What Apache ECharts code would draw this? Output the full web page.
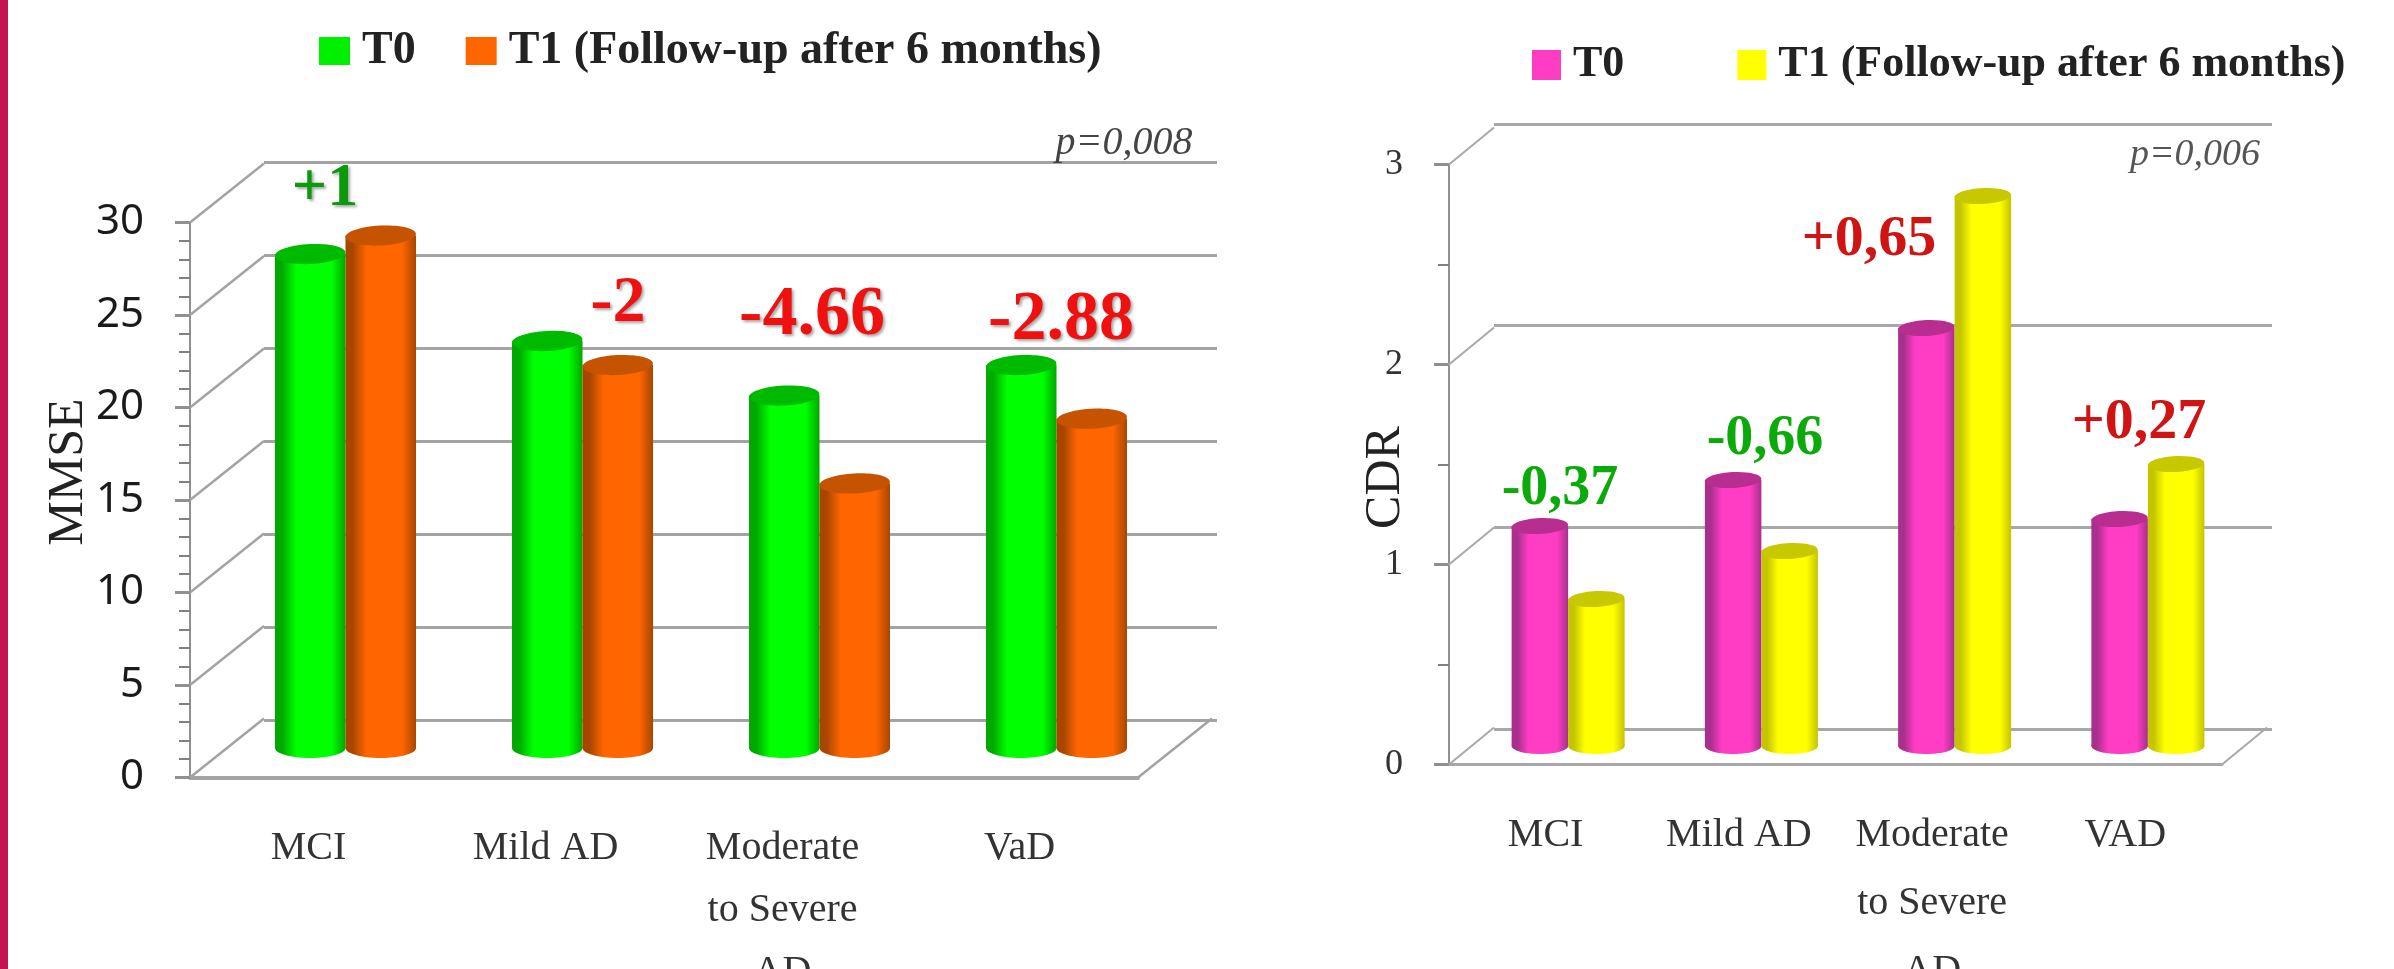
<!DOCTYPE html>
<html>
<head>
<meta charset="utf-8">
<style>
  html, body { margin: 0; padding: 0; background: #ffffff; overflow: hidden; }
  #stripe { position: absolute; left: 0; top: 0; width: 8px; height: 969px; background: #c2144f; }
  #mmse { position: absolute; left: 0; top: 0; width: 1300px; height: 969px; }
  #cdr { position: absolute; left: 1300px; top: 0; width: 1094px; height: 969px; }
</style>
<script src="https://cdn.jsdelivr.net/npm/echarts@6/dist/echarts.min.js"></script>
</head>
<body>
<div id="stripe"></div>
<div id="mmse"></div>
<div id="cdr"></div>
<script>
"use strict";

var legendT0 = "T0";
var legendT1 = "T1 (Follow-up after 6 months)";

var mmseCategories = ["MCI", "Mild AD", "Moderate\nto Severe\nAD", "VaD"];
var mmseT0 = [26.7, 22.0, 19.05, 20.7];
var mmseT1 = [27.7, 20.7, 14.3, 17.8];
var mmseTicks = [0, 5, 10, 15, 20, 25, 30];
var mmseDeltas = ["+1", "-2", "-4.66", "-2.88"];

var cdrCategories = ["MCI", "Mild AD", "Moderate\nto Severe\nAD", "VAD"];
var cdrT0 = [1.10, 1.33, 2.09, 1.135];
var cdrT1 = [0.735, 0.975, 2.75, 1.41];
var cdrTicks = [0, 1, 2, 3];
var cdrDeltas = ["-0,37", "-0,66", "+0,65", "+0,27"];

var SERIF = "'Liberation Serif', serif";
var GREEN_TEXT = "#0a9a0a";
var RED_TEXT = "#f01010";

function barSeries(name, values, side, look, geo) {
  return {
    type: "custom",
    name: name,
    z: 3,
    itemStyle: {color: look.legend},
    data: values.map(function(v, i) { return [i, v]; }),
    encode: {x: 0, y: 1},
    renderItem: function(params, api) {
      var top = api.coord([api.value(0), api.value(1)]);
      var base = api.coord([api.value(0), 0]);
      var w = geo.barWidth;
      // bars stand halfway into the floor
      var cx = top[0] + geo.depthX / 2 + side * w / 2;
      var topY = top[1] - geo.depthY / 2;
      var baseY = base[1] - geo.depthY / 2;
      var fill = new echarts.graphic.LinearGradient(0, 0, 1, 0, [
        {offset: 0, color: look.edge},
        {offset: 0.1, color: look.edge},
        {offset: 0.3, color: look.body},
        {offset: 0.8, color: look.body},
        {offset: 1, color: look.edge}
      ]);
      return {
        type: "group",
        children: [
          {
            type: "ellipse",
            shape: {cx: cx, cy: baseY, rx: w / 2, ry: geo.capHeight},
            style: {fill: fill}
          },
          {
            type: "rect",
            shape: {x: cx - w / 2, y: topY, width: w, height: baseY - topY},
            style: {fill: fill}
          },
          {
            type: "ellipse",
            shape: {cx: cx, cy: topY, rx: w / 2, ry: geo.capHeight},
            originX: cx,
            originY: topY,
            rotation: 0.05,
            style: {fill: look.cap}
          }
        ]
      };
    }
  };
}

// slanted wall and floor edges running back from the front axes
function depthSeries(ticks, lastIndex, geo) {
  var rows = ticks.map(function(t) { return [0, t, 0]; });
  rows.push([lastIndex, ticks[0], 1]);
  return {
    type: "custom",
    silent: true,
    z: 1,
    data: rows,
    encode: {x: 0, y: 1},
    renderItem: function(params, api) {
      var p = api.coord([api.value(0), api.value(1)]);
      var band = api.size([1, 0])[0];
      var x0 = p[0] + (api.value(2) ? band / 2 : -band / 2);
      return {
        type: "line",
        shape: {x1: x0, y1: p[1], x2: x0 + geo.depthX, y2: p[1] - geo.depthY},
        style: {stroke: geo.lineColor, lineWidth: geo.depthLine}
      };
    }
  };
}

function note(text, x, y, size, color, extra) {
  var style = {
    text: text,
    x: x,
    y: y,
    align: "center",
    verticalAlign: "middle",
    fill: color,
    font: "bold " + size + "px " + SERIF
  };
  for (var k in extra) {
    style[k] = extra[k];
  }
  return {type: "text", z: 20, silent: true, style: style};
}

function drawChart(domId, cfg) {
  var chart = echarts.init(document.getElementById(domId));
  var geo = cfg.geo;

  chart.setOption({
    animation: false,
    backgroundColor: "transparent",
    legend: {
      data: [legendT0, legendT1],
      left: cfg.legendLeft,
      top: cfg.legendTop,
      padding: 0,
      icon: "rect",
      itemWidth: cfg.legendMark[0],
      itemHeight: cfg.legendMark[1],
      itemGap: cfg.legendGap,
      selectedMode: false,
      textStyle: {
        fontFamily: SERIF,
        fontWeight: "bold",
        fontSize: cfg.legendSize,
        color: "#222222",
        padding: [0, 0, 0, 7]
      }
    },
    grid: [
      {left: cfg.front.left, top: cfg.front.top, width: cfg.front.width, height: cfg.front.height, outerBoundsMode: "none"},
      {left: cfg.wall.left, top: cfg.wall.top, width: cfg.wall.width, height: cfg.wall.height, outerBoundsMode: "none"}
    ],
    xAxis: [
      {
        type: "category",
        gridIndex: 0,
        data: cfg.categories,
        offset: geo.axisDrop,
        axisLine: {lineStyle: {color: geo.lineColor, width: geo.axisWidth}},
        axisTick: {length: 14, lineStyle: {color: "#909090", width: 2}},
        axisLabel: {
          interval: 0,
          margin: cfg.catMargin,
          fontFamily: SERIF,
          fontSize: cfg.catSize,
          lineHeight: cfg.catLine,
          color: "#333333",
          verticalAlign: "top"
        }
      },
      {type: "category", gridIndex: 1, data: cfg.categories, show: false}
    ],
    yAxis: [
      {
        type: "value",
        gridIndex: 0,
        min: cfg.ticks[0],
        max: cfg.ticks[cfg.ticks.length - 1],
        interval: cfg.ticks[1] - cfg.ticks[0],
        name: cfg.yName,
        nameLocation: "middle",
        nameGap: cfg.nameGap,
        nameRotate: 90,
        nameMoveOverlap: false,
        nameTextStyle: {
          fontFamily: SERIF,
          fontSize: cfg.nameSize,
          color: "#222222",
          padding: cfg.namePadding
        },
        splitLine: {show: false},
        axisLine: {show: true, lineStyle: {color: "#909090", width: 2}},
        axisTick: {show: true, length: 15, lineStyle: {color: "#909090", width: 3}},
        minorTick: {show: true, splitNumber: cfg.minorSplit, length: 11, lineStyle: {color: "#808080", width: 2}},
        axisLabel: cfg.tickLabel
      },
      {
        type: "value",
        gridIndex: 1,
        min: cfg.ticks[0],
        max: cfg.ticks[cfg.ticks.length - 1],
        interval: cfg.ticks[1] - cfg.ticks[0],
        axisLine: {show: false},
        axisTick: {show: false},
        axisLabel: {show: false},
        splitLine: {show: true, lineStyle: {color: geo.lineColor, width: geo.wallLine}}
      }
    ],
    series: [
      depthSeries(cfg.ticks, cfg.categories.length - 1, geo),
      barSeries(legendT0, cfg.t0, -1, cfg.looks[0], geo),
      barSeries(legendT1, cfg.t1, 1, cfg.looks[1], geo)
    ],
    graphic: cfg.notes
  });
  return chart;
}

var mmseNoteShadow = {textShadowColor: "rgba(90,90,90,0.55)", textShadowBlur: 3, textShadowOffsetX: 2, textShadowOffsetY: 2};

drawChart("mmse", {
  categories: mmseCategories,
  t0: mmseT0,
  t1: mmseT1,
  ticks: mmseTicks,
  yName: "MMSE",
  nameGap: 96,
  nameSize: 50,
  namePadding: [0, 0, 0, 56],
  minorSplit: 5,
  tickLabel: {margin: 46, fontFamily: "'Noto Sans', sans-serif", fontSize: 42, color: "#1a1a1a"},
  catMargin: 37,
  catSize: 40,
  catLine: 62,
  legendLeft: 319,
  legendTop: 28,
  legendMark: [31, 28],
  legendGap: 50,
  legendSize: 46,
  front: {left: 190, top: 222.5, width: 948, height: 555},
  wall: {left: 264, top: 162, width: 953, height: 558},
  geo: {barWidth: 70.5, depthX: 74, depthY: 59, capHeight: 10, axisDrop: 3, axisWidth: 4, wallLine: 3, depthLine: 2.5, lineColor: "#a3a3a3"},
  looks: [
    {body: "#00ff00", edge: "#00a800", cap: "#00ba00", legend: "#00f000"},
    {body: "#ff6600", edge: "#a84600", cap: "#c55300", legend: "#ff6600"}
  ],
  notes: [
    note(mmseDeltas[0], 325, 189, 62, GREEN_TEXT, mmseNoteShadow),
    note(mmseDeltas[1], 618, 304, 66, RED_TEXT, mmseNoteShadow),
    note(mmseDeltas[2], 812, 316, 70, RED_TEXT, mmseNoteShadow),
    note(mmseDeltas[3], 1061, 321, 70, RED_TEXT, mmseNoteShadow),
    {type: "text", z: 20, silent: true, style: {text: "p=0,008", x: 1124, y: 143, align: "center", verticalAlign: "middle", fill: "#444444", font: "italic 40px " + SERIF}}
  ]
});

drawChart("cdr", {
  categories: cdrCategories,
  t0: cdrT0,
  t1: cdrT1,
  ticks: cdrTicks,
  yName: "CDR",
  nameGap: 38,
  nameSize: 50,
  namePadding: [0, 26, 0, 0],
  minorSplit: 2,
  tickLabel: {margin: 46, fontFamily: SERIF, fontSize: 36, color: "#333333", padding: [20, 0, 0, 0]},
  catMargin: 35,
  catSize: 40,
  catLine: 68,
  legendLeft: 232,
  legendTop: 43,
  legendMark: [29, 30],
  legendGap: 113,
  legendSize: 44,
  front: {left: 149, top: 164.5, width: 773, height: 600},
  wall: {left: 194, top: 124, width: 778, height: 605},
  geo: {barWidth: 56.5, depthX: 45, depthY: 37, capHeight: 8, axisDrop: 2, axisWidth: 3, wallLine: 3, depthLine: 2, lineColor: "#a8a8a8"},
  looks: [
    {body: "#ff3dc4", edge: "#a82f8c", cap: "#b82e90", legend: "#ff3dc4"},
    {body: "#ffff00", edge: "#c4c400", cap: "#c8c800", legend: "#ffff00"}
  ],
  notes: [
    note(cdrDeltas[0], 260, 490, 56, "#0aaa0a"),
    note(cdrDeltas[1], 465, 440, 56, "#0aaa0a"),
    note(cdrDeltas[2], 569, 240, 58, "#d01414"),
    note(cdrDeltas[3], 839, 423, 58, "#d01414"),
    {type: "text", z: 20, silent: true, style: {text: "p=0,006", x: 895, y: 155, align: "center", verticalAlign: "middle", fill: "#555555", font: "italic 38px " + SERIF}}
  ]
});
</script>
</body>
</html>
